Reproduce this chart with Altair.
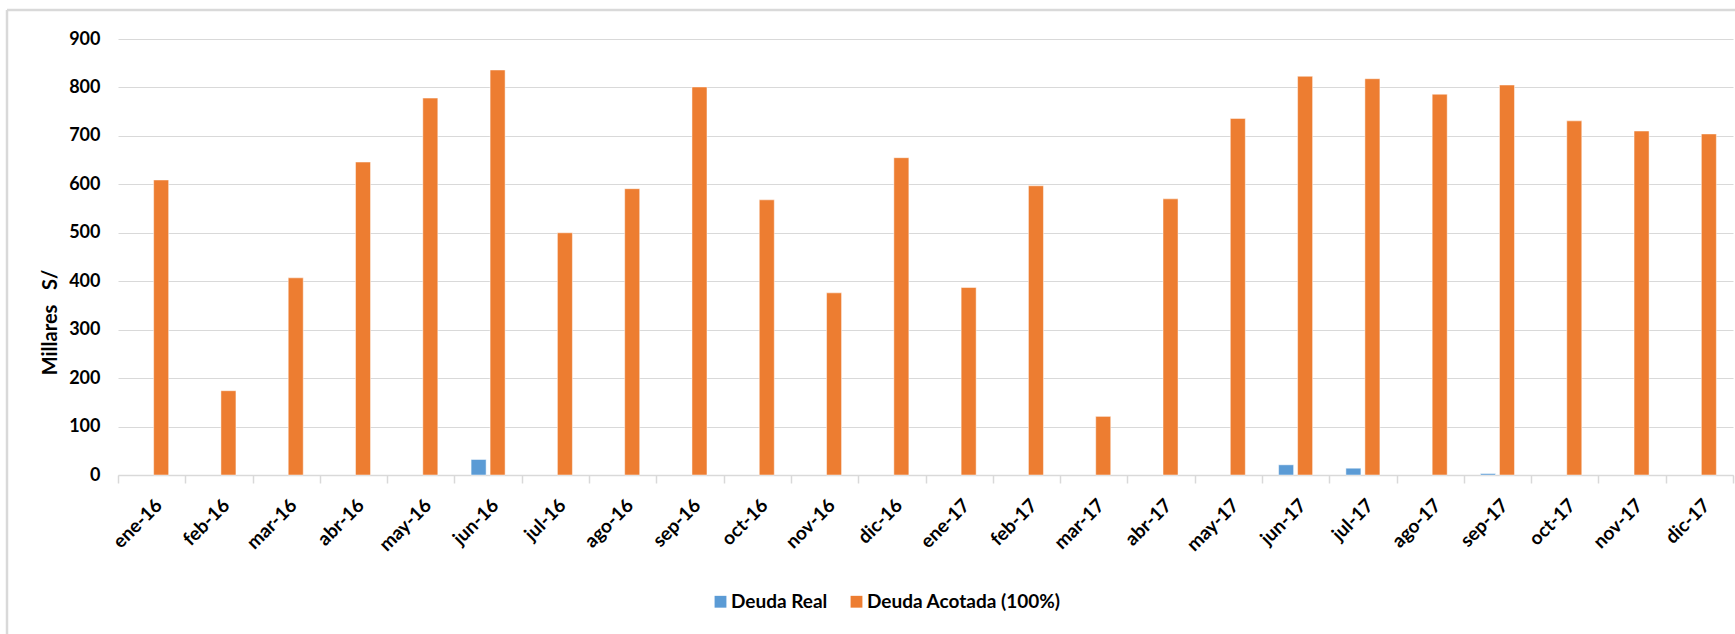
import altair as alt
import pandas as pd

# Monthly debt figures, thousands of soles
meses = [
    "ene-16", "feb-16", "mar-16", "abr-16", "may-16", "jun-16",
    "jul-16", "ago-16", "sep-16", "oct-16", "nov-16", "dic-16",
    "ene-17", "feb-17", "mar-17", "abr-17", "may-17", "jun-17",
    "jul-17", "ago-17", "sep-17", "oct-17", "nov-17", "dic-17",
]
deuda_real = [0, 0, 0, 0, 0, 32, 0, 0, 0, 0, 0, 0,
              0, 0, 0, 0, 0, 21, 14, 0, 3, 0, 0, 0]
deuda_acotada = [609, 174, 407, 646, 778, 836, 500, 591, 801, 568, 376, 655,
                 387, 597, 121, 570, 736, 823, 818, 786, 805, 731, 710, 704]

series = ["Deuda Real", "Deuda Acotada (100%)"]
colores = ["#5B9BD5", "#ED7D31"]
y_ticks = [0, 100, 200, 300, 400, 500, 600, 700, 800, 900]

rows = []
for mes, real, acotada in zip(meses, deuda_real, deuda_acotada):
    rows.append({"mes": mes, "serie": series[0], "valor": real})
    rows.append({"mes": mes, "serie": series[1], "valor": acotada})
df = pd.DataFrame(rows)

FONT = "Lato"
GRID = "#d9d9d9"
TEXT = "#000000"
NBSP = "\u00a0"

bars = (
    alt.Chart(df)
    .transform_filter("datum.valor > 0")
    .mark_bar(stroke="white", strokeWidth=0.8, strokeOpacity=0.6)
    .encode(
        x=alt.X(
            "mes:N",
            sort=meses,
            scale=alt.Scale(paddingInner=0, paddingOuter=0),
            axis=alt.Axis(
                title=None,
                labelAngle=-45,
                labelAlign="right",
                labelBaseline="middle",
                labelFont=FONT,
                labelFontWeight="bold",
                labelFontSize=19,
                labelColor=TEXT,
                labelPadding=19,
                labelOffset=7,
                tickBand="extent",
                tickSize=8,
                tickColor=GRID,
                tickWidth=1.5,
                domainColor=GRID,
                domainWidth=1.5,
                grid=False,
            ),
        ),
        xOffset=alt.XOffset(
            "serie:N",
            sort=series,
            scale=alt.Scale(domain=series, paddingInner=0.21, paddingOuter=0.876),
        ),
        y=alt.Y(
            "valor:Q",
            scale=alt.Scale(domain=[0, 900], nice=False),
            axis=alt.Axis(
                values=y_ticks,
                title=f"Millares{NBSP * 3}S/",
                titleFont=FONT,
                titleFontSize=20,
                titleFontWeight="bold",
                titleColor=TEXT,
                titleAngle=270,
                titleX=-68,
                titleY=283,
                titleAlign="center",
                titleBaseline="middle",
                labelFont=FONT,
                labelFontWeight="bold",
                labelFontSize=18,
                labelColor=TEXT,
                labelPadding=18,
                domain=False,
                ticks=False,
                gridColor=GRID,
                gridWidth=1.2,
            ),
        ),
        color=alt.Color(
            "serie:N",
            scale=alt.Scale(domain=series, range=colores),
            legend=alt.Legend(
                title=None,
                orient="none",
                direction="horizontal",
                legendX=593,
                legendY=553,
                symbolType="square",
                symbolSize=140,
                symbolStrokeWidth=0,
                labelFont=FONT,
                labelFontSize=19,
                labelFontWeight="bold",
                labelColor=TEXT,
                labelLimit=0,
                labelOffset=1,
                columnPadding=19,
                padding=0,
            ),
        ),
    )
)

# light frame around the chart
frame_top = (
    alt.Chart(alt.Data(values=[{}]))
    .mark_rule(color=GRID, strokeWidth=2.5)
    .encode(x=alt.value(-111), x2=alt.value(1617), y=alt.value(-29))
)
frame_left = (
    alt.Chart(alt.Data(values=[{}]))
    .mark_rule(color=GRID, strokeWidth=2.5)
    .encode(x=alt.value(-111), y=alt.value(-29), y2=alt.value(595))
)

chart = (
    alt.layer(frame_top, frame_left, bars)
    .properties(
        width=1615,
        height=436,
        autosize=alt.AutoSizeParams(type="none"),
        padding={"left": 118, "top": 39, "right": 2, "bottom": 159},
        background="white",
    )
    .configure_view(stroke=None)
)

chart.save("out.html", embed_options={"renderer": "svg", "actions": False})
